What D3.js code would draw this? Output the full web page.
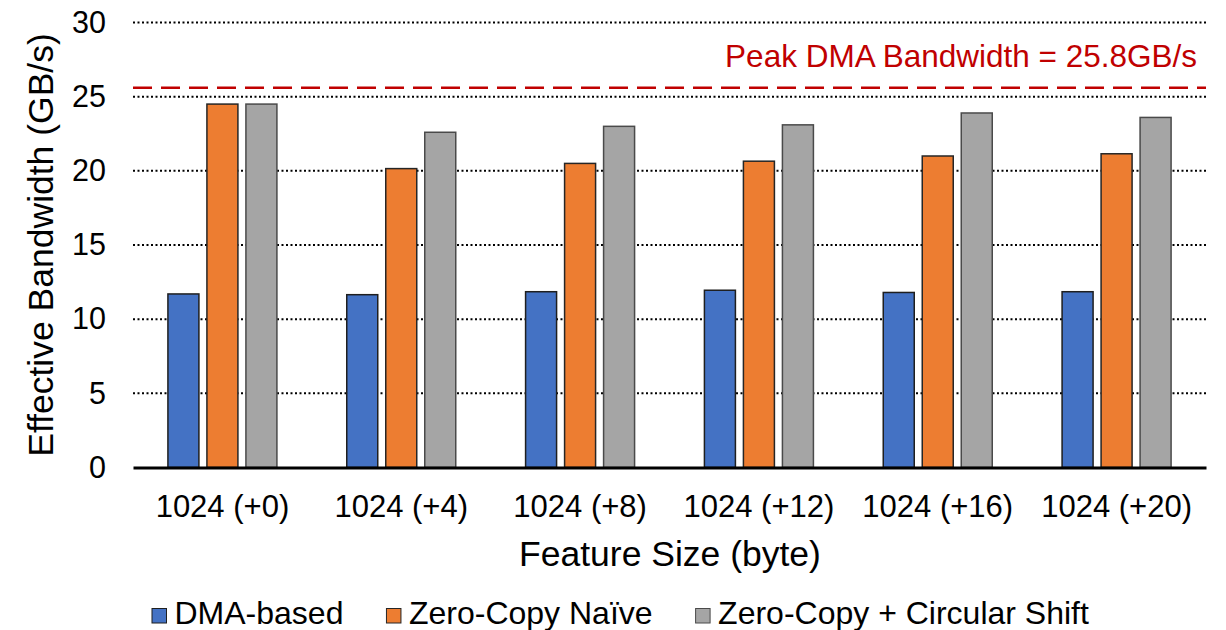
<!DOCTYPE html>
<html>
<head>
<meta charset="utf-8">
<script src="https://cdn.jsdelivr.net/npm/d3@7"></script>
<style>
  html, body { margin: 0; padding: 0; background: #fff; }
  svg { display: block; font-family: "Liberation Sans", Arial, sans-serif; }
</style>
</head>
<body>
<svg id="chart" width="1226" height="630"></svg>
<script>
const categories = ["1024 (+0)", "1024 (+4)", "1024 (+8)", "1024 (+12)", "1024 (+16)", "1024 (+20)"];
const seriesNames = ["DMA-based", "Zero-Copy Naïve", "Zero-Copy + Circular Shift"];
const dmaBased = [11.7, 11.65, 11.85, 11.95, 11.8, 11.85];
const zeroCopyNaive = [24.5, 20.15, 20.5, 20.65, 21.0, 21.15];
const zeroCopyShift = [24.5, 22.6, 23.0, 23.1, 23.9, 23.6];
const yTicks = [0, 5, 10, 15, 20, 25, 30];
const peakValue = 25.6;
const peakLabel = "Peak DMA Bandwidth = 25.8GB/s";
const colors = ["#4472C4", "#ED7D31", "#A5A5A5"];
const strokes = ["#1f1f1f", "#262626", "#4a4a4a"];

const series = [dmaBased, zeroCopyNaive, zeroCopyShift];
const FONT = "'Liberation Sans', Arial, sans-serif";
const svg = d3.select("#chart");
const margin = { left: 133, right: 20, top: 22.5, bottom: 162.5 };
const W = 1226, H = 630;
const x0 = margin.left, x1 = W - margin.right;
const yBase = H - margin.bottom;

const x = d3.scaleBand().domain(categories).range([x0, x1]).paddingInner(0).paddingOuter(0);
const barW = 31, barGap = 8;
const xs = d3.scaleBand().domain(seriesNames)
  .range([0, 3 * barW + 2 * barGap]).paddingInner(barGap / (barW + barGap)).paddingOuter(0);
const groupOffset = (x.bandwidth() - (3 * barW + 2 * barGap)) / 2;

const y = d3.scaleLinear().domain([0, 30]).range([yBase, margin.top]);

// gridlines
svg.append("g").selectAll("line").data(yTicks.filter(t => t > 0)).join("line")
  .attr("x1", x0).attr("x2", x1)
  .attr("y1", d => y(d)).attr("y2", d => y(d))
  .attr("stroke", "#000").attr("stroke-width", 2)
  .attr("stroke-dasharray", "2,2.5");

// peak line
svg.append("line")
  .attr("x1", x0).attr("x2", x1)
  .attr("y1", y(peakValue)).attr("y2", y(peakValue))
  .attr("stroke", "#C00000").attr("stroke-width", 2.5)
  .attr("stroke-dasharray", "19,9");

svg.append("text")
  .attr("x", 1197).attr("y", 66.5)
  .attr("text-anchor", "end")
  .attr("fill", "#C00000")
  .attr("font-size", 31.5)
  .text(peakLabel);

// bars
const groups = svg.append("g").selectAll("g").data(categories).join("g")
  .attr("transform", d => `translate(${x(d) + groupOffset},0)`);
groups.selectAll("rect")
  .data((c, ci) => seriesNames.map((s, si) => ({ s, si, v: series[si][ci] })))
  .join("rect")
  .attr("x", d => xs(d.s))
  .attr("width", xs.bandwidth())
  .attr("y", d => y(d.v))
  .attr("height", d => yBase - y(d.v))
  .attr("fill", d => colors[d.si])
  .attr("stroke", d => strokes[d.si])
  .attr("stroke-width", 1.5);

// baseline axis
const xAxis = svg.append("g").attr("transform", `translate(0,${yBase})`)
  .call(d3.axisBottom(x).tickSize(0).tickPadding(27));
xAxis.attr("font-family", FONT).attr("font-size", 31);
xAxis.select(".domain").attr("stroke", "#000").attr("stroke-width", 3);
xAxis.selectAll("text").attr("fill", "#000");

const yAxis = svg.append("g").attr("transform", `translate(${x0},0)`)
  .call(d3.axisLeft(y).tickValues(yTicks).tickSize(0).tickPadding(27));
yAxis.attr("font-family", FONT).attr("font-size", 30.5);
yAxis.select(".domain").remove();
yAxis.selectAll("text").attr("fill", "#000");

// axis titles
svg.append("text")
  .attr("transform", `translate(53,245) rotate(-90)`)
  .attr("text-anchor", "middle").attr("font-size", 35.5).attr("fill", "#000")
  .text("Effective Bandwidth (GB/s)");
svg.append("text")
  .attr("x", 670).attr("y", 566)
  .attr("text-anchor", "middle").attr("font-size", 35.5).attr("fill", "#000")
  .text("Feature Size (byte)");

// legend
const legend = svg.append("g");
let lx = 152;
seriesNames.forEach((name, i) => {
  legend.append("rect").attr("x", lx).attr("y", 608.5).attr("width", 14.5).attr("height", 14.5)
    .attr("fill", colors[i]).attr("stroke", strokes[i]).attr("stroke-width", 1);
  const t = legend.append("text").attr("x", lx + 22.5).attr("y", 623.5)
    .attr("font-size", 32).attr("fill", "#000").text(name);
  lx += 22.5 + t.node().getComputedTextLength() + 43;
});
</script>
</body>
</html>
